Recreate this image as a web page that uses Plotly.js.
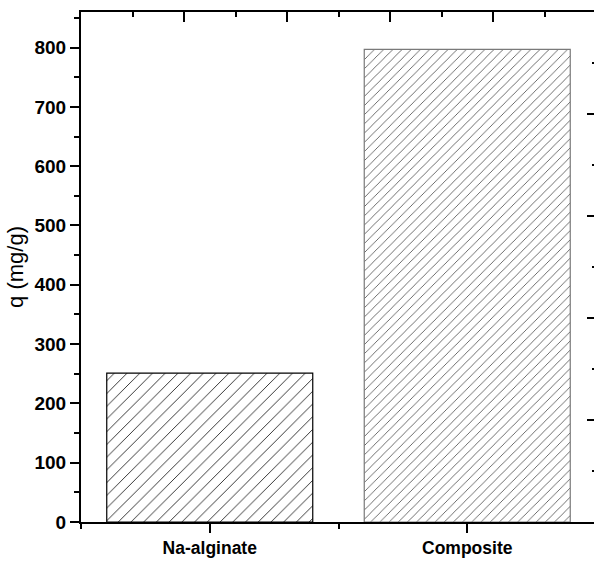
<!DOCTYPE html>
<html>
<head>
<meta charset="utf-8">
<script src="https://cdn.plot.ly/plotly-3.0.1.min.js"></script>
<style>
html,body{margin:0;padding:0;overflow:hidden;background:#fff;}
#chart{width:600px;height:563px;}
</style>
</head>
<body>
<div id="chart"></div>
<script>
const categories = ["Na-alginate", "Composite"];
const qValues = [251, 797];
const yTitle = "q (mg/g)";

const positions = categories.map((c, i) => i);

const trace = {
  type: "bar",
  x: positions,
  y: qValues,
  width: 0.8,
  marker: {
    color: "#ffffff",
    line: {color: ["#000000", "#7a7a7a"], width: 1.2},
    pattern: {shape: "/", fgcolor: "#222222", bgcolor: "#ffffff", size: [9, 6.5], solidity: 0.1}
  },
  hoverinfo: "skip",
  showlegend: false
};

// dummy trace to activate secondary axes
const ghost = {type: "scatter", x: [0], y: [0], xaxis: "x2", yaxis: "y2", mode: "markers",
  marker: {opacity: 0}, showlegend: false, hoverinfo: "skip"};

const font = "Arial, 'Liberation Sans', sans-serif";

const layout = {
  width: 600,
  height: 563,
  margin: {l: 81, r: 4, t: 12, b: 41},
  paper_bgcolor: "#ffffff",
  plot_bgcolor: "#ffffff",
  xaxis: {
    range: [-0.5, 1.5],
    tickmode: "array",
    tickvals: positions,
    ticktext: categories,
    ticks: "outside", ticklen: 9, tickwidth: 2, tickcolor: "#000",
    minor: {ticks: "outside", tick0: 0, dtick: 0.5, ticklen: 5, tickwidth: 2, tickcolor: "#000"},
    showline: true, linecolor: "#000", linewidth: 2,
    showgrid: false, zeroline: false,
    tickfont: {family: font, size: 17.5, weight: "bold", color: "#000"},
    fixedrange: true
  },
  yaxis: {
    range: [0, 860],
    dtick: 100,
    ticks: "outside", ticklen: 9, tickwidth: 2, tickcolor: "#000",
    minor: {ticks: "outside", dtick: 50, ticklen: 5, tickwidth: 2, tickcolor: "#000"},
    showline: true, linecolor: "#000", linewidth: 2,
    showgrid: false, zeroline: false,
    tickfont: {family: font, size: 19, weight: "bold", color: "#000"},
    title: {text: yTitle, font: {family: font, size: 22, color: "#000"}, standoff: 5},
    fixedrange: true
  },
  xaxis2: {
    overlaying: "x", side: "top", anchor: "y",
    range: [0, 5], dtick: 1,
    ticks: "inside", ticklen: 10, tickwidth: 2, tickcolor: "#000",
    minor: {ticks: "inside", dtick: 0.5, ticklen: 5, tickwidth: 2, tickcolor: "#000"},
    showline: true, linecolor: "#000", linewidth: 2,
    showticklabels: false, showgrid: false, zeroline: false, fixedrange: true
  },
  yaxis2: {
    overlaying: "y", side: "right", anchor: "x",
    range: [0, 5], dtick: 1,
    ticks: "inside", ticklen: 9, tickwidth: 2, tickcolor: "#000",
    minor: {ticks: "inside", dtick: 0.5, ticklen: 4, tickwidth: 2, tickcolor: "#000"},
    showline: true, linecolor: "#000", linewidth: 2,
    showticklabels: false, showgrid: false, zeroline: false, fixedrange: true
  }
};

Plotly.newPlot("chart", [trace, ghost], layout, {displayModeBar: false, staticPlot: true});
</script>
</body>
</html>
